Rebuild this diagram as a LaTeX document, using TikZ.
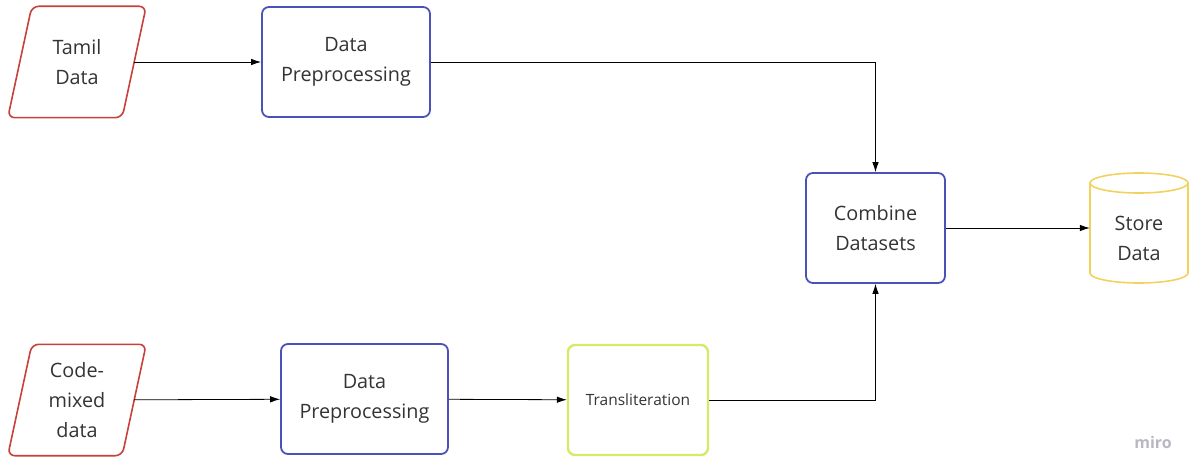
\documentclass[tikz,border=0pt]{standalone}
\usepackage{fontspec}
\setmainfont{Open Sans}
\usetikzlibrary{arrows.meta,calc}
\definecolor{redb}{HTML}{C8403A}
\definecolor{blueb}{HTML}{4A52B8}
\definecolor{limeb}{HTML}{D6EA6A}
\definecolor{yelb}{HTML}{F2D25E}
\definecolor{txt}{HTML}{333333}
\definecolor{wm}{HTML}{B8B8C4}
\begin{document}
\begin{tikzpicture}[x=1pt,y=-1pt,
  lbl/.style={text=txt,font=\fontsize{19.8}{30}\selectfont,align=center,inner sep=0pt},
  para/.style={lbl,minimum width=114pt,minimum height=111pt},
  procbox/.style={lbl,draw=blueb,line width=1.8pt,rounded corners=7pt,minimum height=110pt},
  trbox/.style={lbl,draw=limeb,line width=2.4pt,rounded corners=7pt,minimum width=140pt,minimum height=110pt,font=\fontsize{15.5}{20}\selectfont},
  paraline/.style={draw=redb,line width=1.6pt,rounded corners=7pt},
  cyl/.style={draw=yelb,line width=1.6pt},
  arr/.style={draw=black,line width=0.8pt,-{Latex[length=10pt,width=6.5pt]}},
  ln/.style={draw=black,line width=0.8pt}]
\useasboundingbox (0,0) rectangle (1189,457);
% Tamil data
\node[para] (tamil) at (77,62) {Tamil\\Data};
\draw[paraline] ([xshift=12pt]tamil.north west) -- ([xshift=12pt]tamil.north east)
  -- ([xshift=-12pt]tamil.south east) -- ([xshift=-12pt]tamil.south west) -- cycle;
% Code-mixed data
\node[para] (code) at (77,400) {Code-\\mixed\\data};
\draw[paraline] ([xshift=12pt]code.north west) -- ([xshift=12pt]code.north east)
  -- ([xshift=-12pt]code.south east) -- ([xshift=-12pt]code.south west) -- cycle;
% processing boxes
\node[procbox,minimum width=168pt] (pp1) at (346,62) {Data\\Preprocessing};
\node[procbox,minimum width=167pt] (pp2) at (364.5,399) {Data\\Preprocessing};
\node[trbox] (trans) at (638,400) {Transliteration};
\node[procbox,minimum width=139pt] (comb) at (875.5,228) {Combine\\Datasets};
% store data cylinder
\node[lbl,minimum width=98pt,minimum height=110pt] (store) at (1139,238) {Store\\Data};
\draw[cyl] (1090,183) -- (1090,273) arc[start angle=180,end angle=0,x radius=49,y radius=10] -- (1188,183);
\draw[cyl] (1139,183) ellipse[x radius=49,y radius=10];
% connectors
\draw[arr] (tamil) -- (pp1);
\draw[arr] (code) -- (pp2);
\draw[arr] (pp2) -- (trans);
\draw[arr] (pp1.east) -| (comb.north);
\draw[arr] (trans.east) -| (comb.south);
\draw[arr] (comb.east) -- (store.west |- comb.east);
% watermark
\node[text=wm,font=\fontsize{16}{16}\selectfont\bfseries] (miro) at (1153,442) {miro};
\end{tikzpicture}
\end{document}
